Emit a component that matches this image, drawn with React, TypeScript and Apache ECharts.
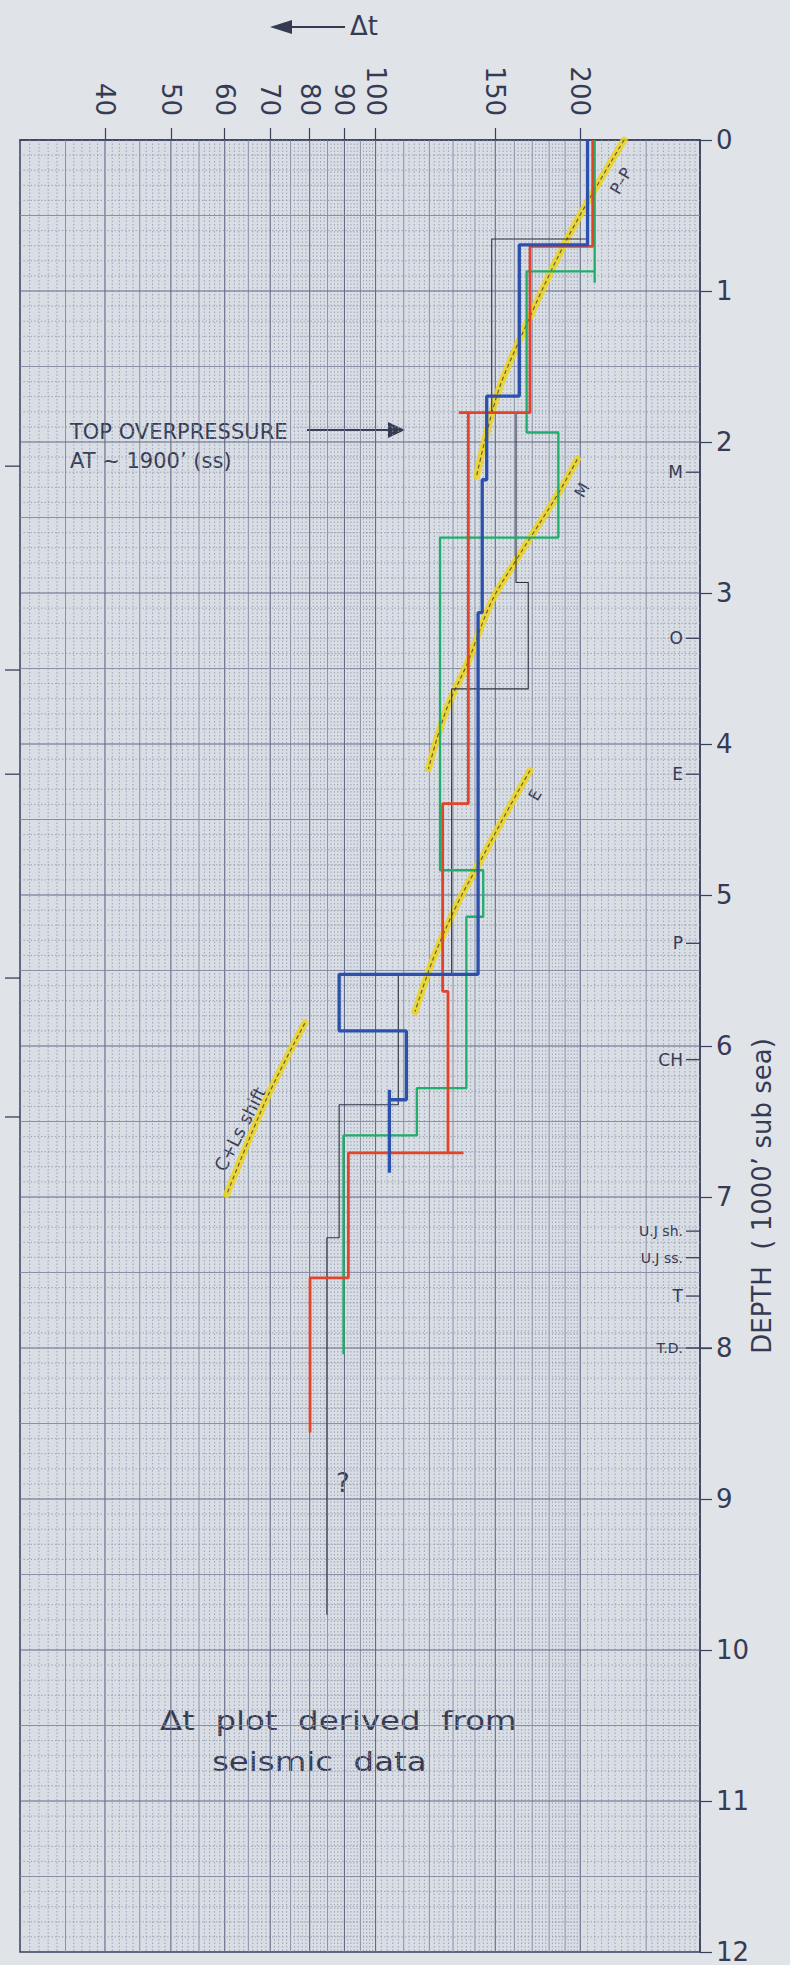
import React, { useEffect, useRef } from 'react';
import * as echarts from 'echarts';

// ---------- axes ----------
const DT_MIN = 30;
const DT_MAX = 300;
const DEPTH_MAX = 12000;
const dtLabelValues = [40, 50, 60, 70, 80, 90, 100, 150, 200];

// ---------- step logs (Δt per interval, interval boundaries in ft) ----------
const blackDt = [205, 148.2, 160.9, 167.7, 129.4, 108, 88.4, 84.8];
const blackDepths = [0, 656, 1806, 2930, 3635, 5525, 6389, 7270, 9766];
const greenDt = [210, 166.8, 185.7, 124.4, 144, 136, 115, 89.7];
const greenDepths = [0, 870, 1937, 2633, 4836, 5144, 6279, 6592, 8041];
const redDt = [208.6, 168.7, 136.9, 125.5, 127.8, 91.2, 80.1];
const redDepths = [0, 705, 1806, 4395, 5638, 6708, 7535, 8559];
const blueDt = [205, 162.7, 145.7, 143.5, 141.5, 88.4, 111, 104.8];
const blueDepths = [0, 694, 1696, 2250, 3130, 5525, 5900, 6356, 6840];

// overshooting pen strokes at the steps [Δt from, Δt to, depth from, depth to]
const redOvershoots = [[136.9, 132.6, 1806, 1806], [127.8, 134.7, 6708, 6708]];
const greenOvershoots = [[210, 210, 870, 945]];
const blueOvershoots = [[104.8, 104.8, 6356, 6290]];

// ---------- yellow trend lines [Δt, depth] ----------
const trendPP = [[232, 0], [191, 661], [161.3, 1366], [150.7, 1696], [140.8, 2225]];
const trendM = [[198, 2115], [184.7, 2357], [161.3, 2776], [148, 3060], [136, 3481], [127.2, 3767], [119.6, 4164]];
const trendE = [[168.7, 4175], [155.9, 4450], [142.4, 4780], [131.6, 5067], [121.6, 5420], [114.3, 5772]];
const trendCLs = [[78.7, 5849], [69.2, 6345], [60.4, 6984]];

// ---------- formation tops (right) and marks (left) ----------
const formationNames = ['M', 'O', 'E', 'P', 'CH', 'U.J sh.', 'U.J ss.', 'T', 'T.D.'];
const formationDepths = [2200, 3300, 4200, 5320, 6090, 7226, 7402, 7656, 8000];
const leftMarkDepths = [2160, 3510, 4200, 5550, 6470];

// ---------- paper grid ----------
const vMajor = [40, 50, 60, 70, 80, 90, 100, 150, 200];
const vMedium = [35, 45, 55, 65, 75, 85, 95, 110, 120, 130, 140, 160, 170, 180, 190, 250];

const FONT = 'DejaVu Sans';
const INK = '#363b54';
const L = (v: number) => Math.log10(v);
const LMIN = L(DT_MIN);
const LMAX = L(DT_MAX);

function stepPath(dts: number[], depths: number[]) {
  const pts: number[][] = [];
  dts.forEach((v, i) => {
    pts.push([L(v), depths[i]]);
    pts.push([L(v), depths[i + 1]]);
  });
  return pts;
}
const toLog = (arr: number[][]) => arr.map(([v, d]) => [L(v), d]);
function segPath(segs: number[][]) {
  const pts: any[] = [];
  segs.forEach(([v1, v2, d1, d2]) => {
    pts.push([L(v1), d1]);
    pts.push([L(v2), d2]);
    pts.push('-');
  });
  return pts;
}

function buildVerticalGrid() {
  const out: number[][] = [];
  vMajor.forEach((v) => out.push([L(v), 0, 2]));
  vMedium.forEach((v) => out.push([L(v), 0, 1]));
  for (let v = 31; v < 100; v++) if (v % 5 !== 0) out.push([L(v), 0, 0]);
  for (let v = 102; v < 200; v += 2) if (v % 10 !== 0) out.push([L(v), 0, 0]);
  for (let v = 205; v < 300; v += 5) if (v !== 250) out.push([L(v), 0, 0]);
  return out;
}
function buildHorizontalGrid() {
  const out: number[][] = [];
  for (let d = 100; d < DEPTH_MAX; d += 100) {
    out.push([LMIN, d, d % 1000 === 0 ? 2 : d % 500 === 0 ? 1 : 0]);
  }
  return out;
}

const gridStyles = [
  { stroke: '#8f96ae', lineWidth: 0.8, lineDash: [1.5, 2] },
  { stroke: '#8088a2', lineWidth: 0.9 },
  { stroke: '#626a88', lineWidth: 1.1 },
];

export default function App() {
  const ref = useRef<HTMLDivElement>(null);
  useEffect(() => {
    if (!ref.current) return;
    const chart = echarts.init(ref.current, undefined, { renderer: 'svg' });

    const stepSeries = (name: string, data: any[], color: string, width: number) => ({
      name,
      type: 'line',
      data,
      symbol: 'none',
      silent: true,
      connectNulls: false,
      lineStyle: { color, width },
      z: 5,
    });
    const trendSeries = (name: string, pts: number[][]) => [
      {
        name: name + ' band',
        type: 'line',
        data: toLog(pts),
        smooth: 0.35,
        symbol: 'none',
        silent: true,
        lineStyle: { color: '#ecd41c', width: 7, opacity: 0.85, cap: 'round' },
        z: 3,
      },
      {
        name: name + ' dash',
        type: 'line',
        data: toLog(pts),
        smooth: 0.35,
        symbol: 'none',
        silent: true,
        lineStyle: { color: '#5e5a3c', width: 1.1, type: [4, 3] },
        z: 4,
      },
    ];

    const option: any = {
      animation: false,
      backgroundColor: 'transparent',
      grid: {
        left: 20,
        top: 140,
        width: 680,
        height: 1816,
        show: true,
        borderColor: '#3a3f5c',
        borderWidth: 1.5,
        backgroundColor: '#d9dde4',
      },
      xAxis: {
        type: 'value',
        position: 'top',
        min: LMIN,
        max: LMAX,
        axisLine: { show: true, lineStyle: { color: '#3a3f5c', width: 1.5 } },
        axisTick: {
          show: true,
          length: 12,
          customValues: dtLabelValues.map(L),
          lineStyle: { color: '#3a3f5c', width: 1.2 },
        },
        axisLabel: {
          show: true,
          customValues: dtLabelValues.map(L),
          formatter: (v: number) => String(Math.round(Math.pow(10, v))),
          rotate: -90,
          margin: 24,
          fontSize: 26,
          fontFamily: FONT,
          color: INK,
        },
        splitLine: { show: false },
      },
      yAxis: {
        type: 'value',
        position: 'right',
        inverse: true,
        min: 0,
        max: DEPTH_MAX,
        interval: 1000,
        axisLine: { show: true, lineStyle: { color: '#3a3f5c', width: 1.5 } },
        axisTick: { show: true, length: 12, lineStyle: { color: '#3a3f5c', width: 1.2 } },
        axisLabel: {
          formatter: (v: number) => String(v / 1000),
          margin: 16,
          fontSize: 26,
          fontFamily: FONT,
          color: INK,
        },
        splitLine: { show: false },
      },
      series: [
        {
          name: 'vgrid',
          type: 'custom',
          silent: true,
          z: 1,
          data: buildVerticalGrid(),
          renderItem: (_p: any, api: any) => {
            const x = api.value(0);
            const a = api.coord([x, 0]);
            const b = api.coord([x, DEPTH_MAX]);
            return { type: 'line', shape: { x1: a[0], y1: a[1], x2: b[0], y2: b[1] }, style: gridStyles[api.value(2)] };
          },
        },
        {
          name: 'hgrid',
          type: 'custom',
          silent: true,
          z: 1,
          data: buildHorizontalGrid(),
          renderItem: (_p: any, api: any) => {
            const d = api.value(1);
            const a = api.coord([LMIN, d]);
            const b = api.coord([LMAX, d]);
            return { type: 'line', shape: { x1: a[0], y1: a[1], x2: b[0], y2: b[1] }, style: gridStyles[api.value(2)] };
          },
        },
        ...trendSeries('P-P', trendPP),
        ...trendSeries('M', trendM),
        ...trendSeries('E', trendE),
        ...trendSeries('C+Ls shift', trendCLs),
        stepSeries('log A', stepPath(blackDt, blackDepths), '#2e3040', 1.1),
        stepSeries('log B', stepPath(greenDt, greenDepths), '#1fae6c', 2.3),
        stepSeries('log B ends', segPath(greenOvershoots), '#1fae6c', 2.3),
        stepSeries('log C', stepPath(redDt, redDepths), '#e2432b', 2.8),
        stepSeries('log C ends', segPath(redOvershoots), '#e2432b', 2.8),
        stepSeries('log D', stepPath(blueDt, blueDepths), '#2b50ad', 3.3),
        stepSeries('log D ends', segPath(blueOvershoots), '#2b50ad', 3.3),
        {
          name: 'formations',
          type: 'custom',
          silent: true,
          clip: false,
          z: 6,
          data: formationDepths.map((d, i) => [LMAX, d, i]),
          renderItem: (_p: any, api: any) => {
            const i = api.value(2);
            const p = api.coord([LMAX, api.value(1)]);
            const td = formationNames[i] === 'T.D.';
            const small = formationNames[i].length > 2;
            return {
              type: 'group',
              children: [
                {
                  type: 'line',
                  shape: { x1: p[0] - 14, y1: p[1], x2: p[0] + (td ? 12 : 0), y2: p[1] },
                  style: { stroke: '#3a3f5c', lineWidth: 1.3 },
                },
                {
                  type: 'text',
                  style: {
                    text: formationNames[i],
                    x: p[0] - 17,
                    y: p[1],
                    align: 'right',
                    verticalAlign: 'middle',
                    fontSize: small ? 14 : 17,
                    fontFamily: FONT,
                    fill: INK,
                  },
                },
              ],
            };
          },
        },
        {
          name: 'leftmarks',
          type: 'custom',
          silent: true,
          clip: false,
          z: 6,
          data: leftMarkDepths.map((d) => [LMIN, d]),
          renderItem: (_p: any, api: any) => {
            const p = api.coord([LMIN, api.value(1)]);
            return {
              type: 'line',
              shape: { x1: p[0] - 15, y1: p[1], x2: p[0], y2: p[1] },
              style: { stroke: '#3a3f5c', lineWidth: 1.3 },
            };
          },
        },
      ],
      graphic: [
        // ← Δt
        { type: 'line', shape: { x1: 288, y1: 27, x2: 345, y2: 27 }, style: { stroke: INK, lineWidth: 2 } },
        { type: 'polygon', shape: { points: [[270, 27], [292, 20], [292, 34]] }, style: { fill: INK } },
        {
          type: 'text', x: 350, y: 26,
          style: { text: 'Δt', fontSize: 26, fontFamily: FONT, fill: INK, align: 'left', verticalAlign: 'middle' },
        },
        // top overpressure note
        {
          type: 'text', x: 70, y: 432,
          style: { text: 'TOP OVERPRESSURE', fontSize: 21, fontFamily: FONT, fill: INK, align: 'left', verticalAlign: 'middle' },
        },
        {
          type: 'text', x: 70, y: 461,
          style: { text: 'AT ~ 1900’ (ss)', fontSize: 21, fontFamily: FONT, fill: INK, align: 'left', verticalAlign: 'middle' },
        },
        { type: 'line', shape: { x1: 307, y1: 430, x2: 392, y2: 430 }, style: { stroke: INK, lineWidth: 2 } },
        { type: 'polygon', shape: { points: [[388, 422], [405, 430], [388, 438]] }, style: { fill: INK } },
        // trend labels
        {
          type: 'text', x: 621, y: 181, rotation: Math.PI / 3,
          style: { text: 'P–P', fontSize: 16, fontFamily: FONT, fill: INK, align: 'center', verticalAlign: 'middle' },
        },
        {
          type: 'text', x: 582, y: 490, rotation: Math.PI / 3,
          style: { text: 'M', fontSize: 16, fontFamily: FONT, fill: INK, align: 'center', verticalAlign: 'middle' },
        },
        {
          type: 'text', x: 535, y: 795, rotation: Math.PI / 3,
          style: { text: 'E', fontSize: 16, fontFamily: FONT, fill: INK, align: 'center', verticalAlign: 'middle' },
        },
        {
          type: 'text', x: 240, y: 1129, rotation: 1.1,
          style: { text: 'C+Ls shift', fontSize: 18, fontFamily: FONT, fill: INK, align: 'center', verticalAlign: 'middle' },
        },
        // question mark
        {
          type: 'text', x: 343, y: 1483,
          style: { text: '?', fontSize: 26, fontFamily: FONT, fill: INK, align: 'center', verticalAlign: 'middle' },
        },
        // caption (wide technical lettering)
        {
          type: 'text', x: 160, y: 1720, scaleX: 1.2,
          style: { text: 'Δt  plot  derived  from', fontSize: 27, fontFamily: FONT, fill: INK, align: 'left', verticalAlign: 'middle' },
        },
        {
          type: 'text', x: 212, y: 1761, scaleX: 1.2,
          style: { text: 'seismic  data', fontSize: 27, fontFamily: FONT, fill: INK, align: 'left', verticalAlign: 'middle' },
        },
        // depth axis title
        {
          type: 'text', x: 762, y: 1196, rotation: Math.PI / 2,
          style: { text: 'DEPTH  ( 1000’ sub sea)', fontSize: 26, fontFamily: FONT, fill: INK, align: 'center', verticalAlign: 'middle' },
        },
      ],
    };
    chart.setOption(option);
    return () => chart.dispose();
  }, []);

  return (
    <div
      style={{ position: 'absolute', left: 0, top: 0, width: 790, height: 1965, background: '#e0e3e8' }}
    >
      <div ref={ref} style={{ width: 790, height: 1965 }} />
    </div>
  );
}
